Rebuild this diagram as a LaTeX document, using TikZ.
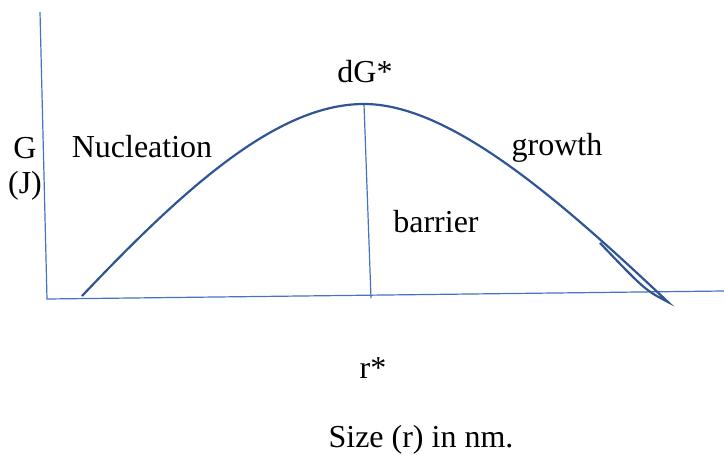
\documentclass[tikz,border=0pt]{standalone}
\usepackage{fontspec}
\setmainfont{Liberation Serif}
\begin{document}
\begin{tikzpicture}[x=0.5pt,y=-0.5pt,
  axis/.style={draw={rgb,255:red,68;green,114;blue,196},line width=0.6pt},
  curve/.style={draw={rgb,255:red,47;green,85;blue,151},line width=1.1pt},
  lbl/.style={font=\fontsize{16}{19}\selectfont,inner sep=0pt}]
\useasboundingbox (0,0) rectangle (724,455);
\coordinate (ytop) at (40,12);
\coordinate (orig) at (47,299);
\coordinate (xend) at (724,291);
\coordinate (peak) at (364,104);
\coordinate (rfoot) at (371,298);
\coordinate (start) at (82,296);
\coordinate (tip) at (668,302);
\coordinate (back) at (600,243);
\draw[axis] (ytop) -- (orig) -- (xend);
\draw[axis] (peak) -- (rfoot);
\draw[curve] (start) .. controls (190,182) and (280,104) .. (peak)
  .. controls (450,104) and (560,200) .. (tip)
  .. controls (645,290) .. (back);
\node[lbl] (g) at (25,148) {G};
\node[lbl] (j) at (25,186) {(J)};
\node[lbl] (nuc) at (142,147) {Nucleation};
\node[lbl] (dg) at (365,72) {dG*};
\node[lbl] (gr) at (557,148) {growth};
\node[lbl] (bar) at (436,222) {barrier};
\node[lbl] (rs) at (373,368) {r*};
\node[lbl] (size) at (421,440) {Size (r) in nm.};
\end{tikzpicture}
\end{document}
